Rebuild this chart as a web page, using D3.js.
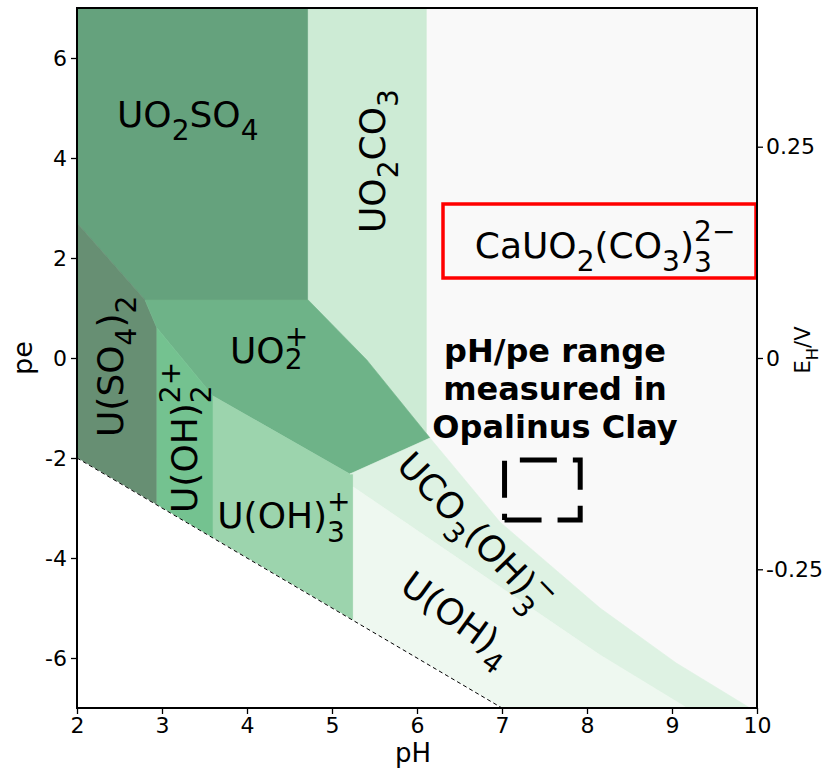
<!DOCTYPE html>
<html>
<head>
<meta charset="utf-8">
<script src="https://cdn.jsdelivr.net/npm/d3@7"></script>
<style>
  body { margin: 0; background: #fff; }
  text { font-family: "DejaVu Sans", sans-serif; fill: #000; }
</style>
</head>
<body>
<div id="chart"></div>
<script>
/* Region outlines, as [pH, pe] vertices. */
const uo2so4 = [[2, 7], [4.72, 7], [4.72, 1.16], [2.8, 1.16], [2, 2.7]]
const uso42 = [[2, 2.7], [2.8, 1.16], [2.94, 0.6], [2.94, -2.94], [2, -2]]
const uo2co3 = [[4.72, 7], [6.11, 7], [6.11, -1.55], [6.153, -1.6], [5.41, -0.04], [4.72, 1.16]]
const uo2plus = [[2.8, 1.16], [4.72, 1.16], [5.41, -0.04], [6.153, -1.6], [5.21, -2.32], [3.6, -0.76], [2.94, 0.6]]
const uoh2 = [[2.94, 0.6], [3.6, -0.76], [3.6, -3.6], [2.94, -2.94]]
const uoh3 = [[3.6, -0.76], [5.21, -2.32], [5.25, -2.32], [5.25, -5.25], [3.6, -3.6]]
const uco3oh3 = [[5.21, -2.32], [6.153, -1.6], [6.976, -3.28], [8.153, -5.0], [9.05, -6.1], [9.918, -7],
  [9.176, -7], [8.153, -5.94], [5.25, -2.58], [5.25, -2.32]]
const uoh4 = [[5.25, -2.58], [8.153, -5.94], [9.176, -7], [7, -7], [5.25, -5.25]]
const plotArea = [[2, 7], [10, 7], [10, -7], [2, -7]]
const belowWater = [[2, -2], [7, -7], [2, -7]]

/* Water reduction limit and the measured pH/pe range. */
const waterLine = [[2, -2], [7, -7]]
const rangePH = [7.03, 7.92]
const rangePE = [-3.24, -2.04]

/* Tick values. */
const phTicks = [2, 3, 4, 5, 6, 7, 8, 9, 10]
const peTicks = [-6, -4, -2, 0, 2, 4, 6]
const ehTicks = [-0.25, 0, 0.25]

const svg = d3.select("#chart")
  .append("svg")
  .attr("width", 822)
  .attr("height", 774)

const x = d3.scaleLinear().domain([2, 10]).range([77, 757])
const y = d3.scaleLinear().domain([-7, 7]).range([708, 8])
const yEh = d3.scaleLinear().domain([-7 * 0.05916, 7 * 0.05916]).range([708, 8])

const line = d3.line().x(d => x(d[0])).y(d => y(d[1]))

/* Fill order matters: background first, white below the water line last. */
const fills = [
  [plotArea, "#f9f9f9"],
  [uo2so4, "#65a27d"],
  [uso42, "#678f73"],
  [uo2co3, "#cdebd5"],
  [uo2plus, "#6eb388"],
  [uoh2, "#74c290"],
  [uoh3, "#9cd4ad"],
  [uco3oh3, "#def2e3"],
  [uoh4, "#eef8f0"],
  [belowWater, "#ffffff"]
]

svg.append("g")
  .selectAll("path")
  .data(fills)
  .enter()
  .append("path")
  .attr("d", d => line(d[0]) + "Z")
  .attr("fill", d => d[1])
  .attr("stroke", d => d[1])
  .attr("stroke-width", 0.6)

svg.append("path")
  .attr("d", line(waterLine))
  .attr("fill", "none")
  .attr("stroke", "#000")
  .attr("stroke-width", 1)
  .attr("stroke-dasharray", "4,3")

/* Dashed box, path starts bottom-left like a matplotlib Rectangle. */
const boxPts = [[rangePH[0], rangePE[0]], [rangePH[1], rangePE[0]], [rangePH[1], rangePE[1]], [rangePH[0], rangePE[1]], [rangePH[0], rangePE[0]]]
svg.append("path")
  .attr("d", line(boxPts))
  .attr("fill", "none")
  .attr("stroke", "#000")
  .attr("stroke-width", 5)
  .attr("stroke-dasharray", "37,16")

/* Tiny mathtext-like parser: "UO_2^+" etc. */
function parseFormula(src) {
  const tokens = []
  let i = 0
  while (i < src.length) {
    const c = src[i]
    if (c === "_" || c === "^") {
      let s
      if (src[i + 1] === "{") {
        const j = src.indexOf("}", i)
        s = src.slice(i + 2, j)
        i = j + 1
      } else {
        s = src[i + 1]
        i += 2
      }
      tokens.push({ kind: c, s: s })
    } else {
      const last = tokens[tokens.length - 1]
      if (last && last.kind === "n") last.s += c
      else tokens.push({ kind: "n", s: c })
      i++
    }
  }
  return tokens
}

function drawFormula(parent, src, fs, px, py, angle, anchor) {
  const g = parent.append("g").attr("transform", `translate(${px},${py}) rotate(${angle})`)
  const inner = g.append("g")
  const tokens = parseFormula(src)
  const small = fs * 0.78
  let cx = 0
  let prev = ""
  const put = (s, size, dy) => {
    const t = inner.append("text")
      .attr("x", cx)
      .attr("y", dy)
      .style("font-size", size + "px")
      .text(s)
    return t.node().getComputedTextLength()
  }
  for (let k = 0; k < tokens.length; k++) {
    const tk = tokens[k]
    if (tk.kind === "n") {
      cx += put(tk.s, fs, 0)
      prev = tk.s.slice(-1)
    } else if (tk.kind === "_" && tokens[k + 1] && tokens[k + 1].kind === "^") {
      const wSub = put(tk.s, small, prev === ")" ? 0.4 * fs : 0.16 * fs)
      const wSup = put(tokens[k + 1].s, small, -0.46 * fs)
      cx += Math.max(wSub, wSup)
      k++
    } else if (tk.kind === "_") {
      cx += put(tk.s, small, 0.36 * fs)
    } else {
      cx += put(tk.s, small, -0.46 * fs)
    }
  }
  if (anchor === "middle") inner.attr("transform", `translate(${-cx / 2},0)`)
  return g
}

/* Species labels, anchored in pH/pe. */
const labels = svg.append("g")
drawFormula(labels, "UO_2SO_4", 36, x(2.47), y(4.62), 0)
drawFormula(labels, "UO_2CO_3", 36, x(5.62), y(2.5), -90)
drawFormula(labels, "UO_2^+", 36, x(3.8), y(-0.1), 0)
drawFormula(labels, "U(SO_4)_2", 36, x(2.54), y(-1.58), -90)
drawFormula(labels, "U(OH)_2^{2+}", 36, x(3.41), y(-3.1), -90)
drawFormula(labels, "U(OH)_3^+", 36, x(3.65), y(-3.4), 0)
drawFormula(labels, "UCO_3(OH)_3^−", 36, x(5.74), y(-2.18), 46)
drawFormula(labels, "U(OH)_4", 36, x(5.78), y(-4.64), 36)
drawFormula(labels, "CaUO_2(CO_3)_3^{2−}", 36, x(6.68), y(2.0), 0)

/* Red box round the dominant aqueous species. */
svg.append("rect")
  .attr("x", 443)
  .attr("y", 204)
  .attr("width", 313)
  .attr("height", 74)
  .attr("fill", "none")
  .attr("stroke", "#ff0000")
  .attr("stroke-width", 3.5)

/* Annotation text. */
svg.append("g")
  .selectAll("text")
  .data(["pH/pe range", "measured in", "Opalinus Clay"])
  .enter()
  .append("text")
  .attr("x", 555)
  .attr("y", (d, i) => 362 + i * 38)
  .attr("text-anchor", "middle")
  .style("font-size", "32px")
  .style("font-weight", "bold")
  .text(d => d)

/* Frame. */
svg.append("rect")
  .attr("x", x(2))
  .attr("y", y(7))
  .attr("width", x(10) - x(2))
  .attr("height", y(-7) - y(7))
  .attr("fill", "none")
  .attr("stroke", "#000")
  .attr("stroke-width", 2)

/* Axes. */
const styleAxis = g => {
  g.select(".domain").remove()
  g.selectAll(".tick line").attr("stroke", "#000").attr("stroke-width", 1.3)
  g.selectAll(".tick text").style("font-size", "22px").attr("fill", "#000")
}

svg.append("g")
  .attr("transform", `translate(${x(2)},0)`)
  .call(d3.axisLeft(y).tickValues(peTicks).tickFormat(d => String(d)).tickSize(6).tickPadding(4))
  .call(styleAxis)

svg.append("g")
  .attr("transform", `translate(0,${y(-7)})`)
  .call(d3.axisBottom(x).tickValues(phTicks).tickFormat(d => String(d)).tickSize(6).tickPadding(3))
  .call(styleAxis)

svg.append("g")
  .attr("transform", `translate(${x(10)},0)`)
  .call(d3.axisRight(yEh).tickValues(ehTicks).tickFormat(d => String(d)).tickSize(6).tickPadding(3))
  .call(styleAxis)

/* Axis titles. */
svg.append("text")
  .attr("x", 413)
  .attr("y", 762)
  .attr("text-anchor", "middle")
  .style("font-size", "26px")
  .text("pH")

svg.append("text")
  .attr("transform", `translate(32,${y(0)}) rotate(-90)`)
  .attr("text-anchor", "middle")
  .style("font-size", "27px")
  .text("pe")

drawFormula(svg, "E_H /V", 21, 810, 350, -90, "middle")
</script>
</body>
</html>
